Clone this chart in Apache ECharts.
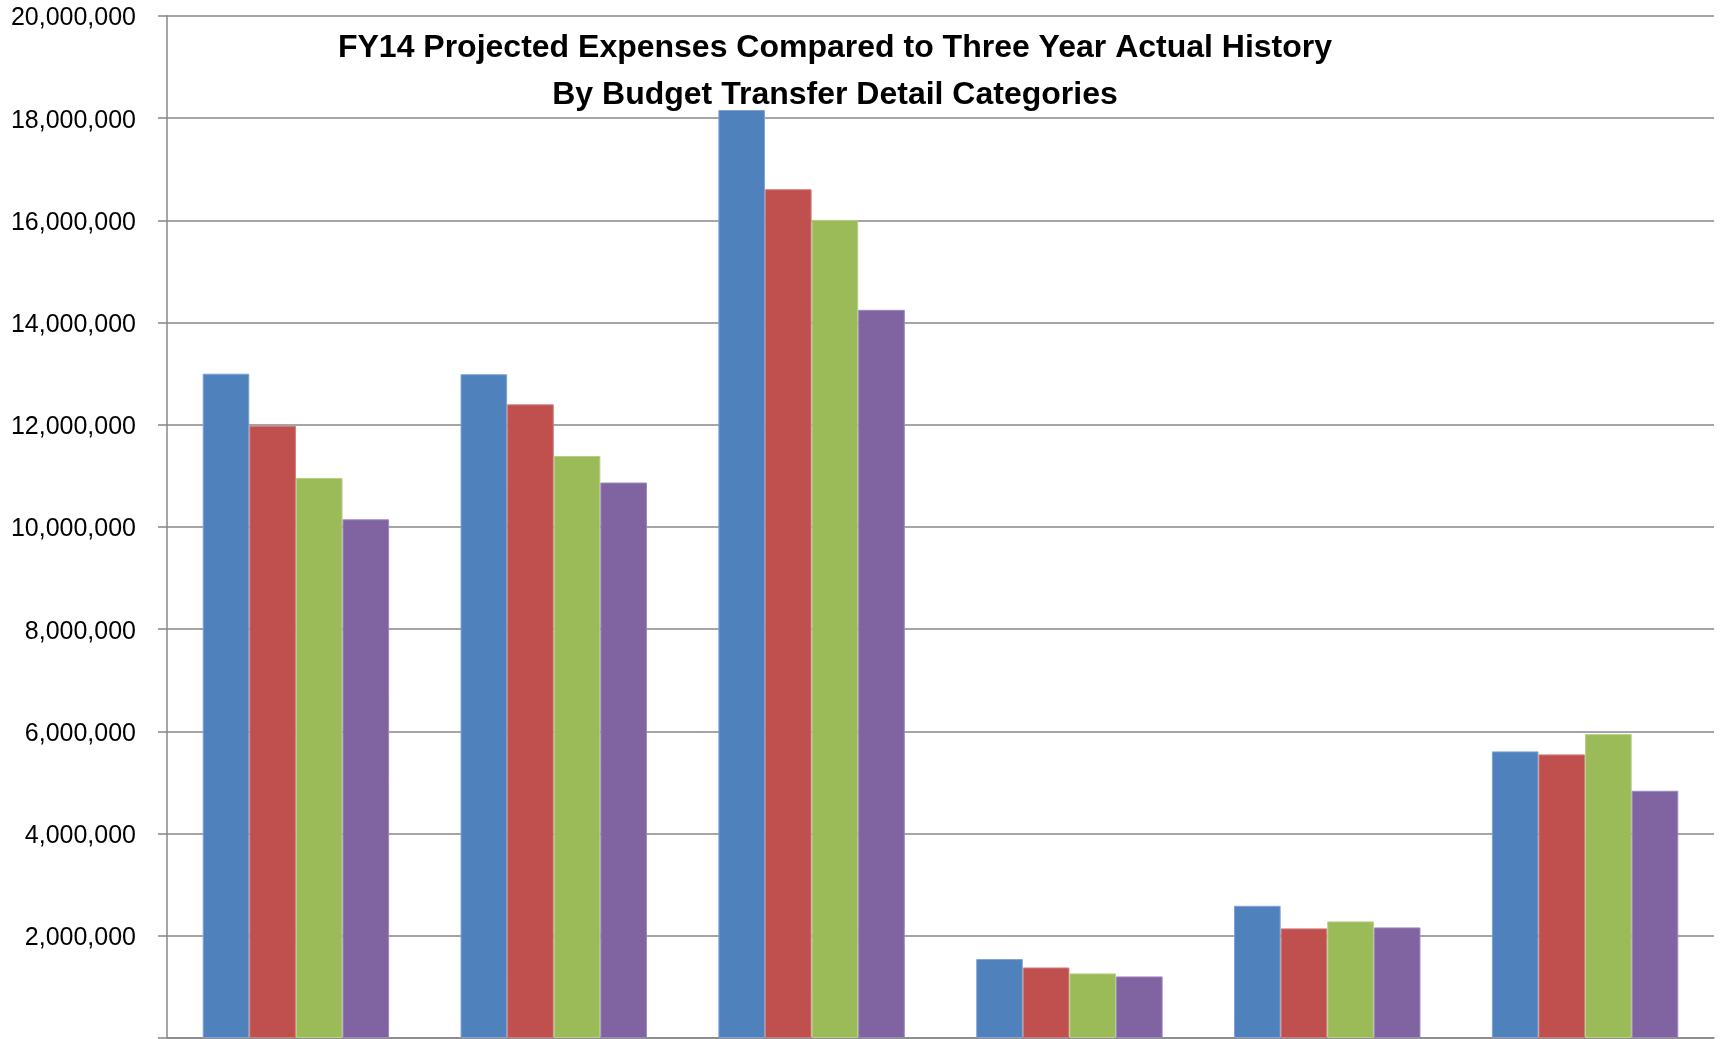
<!DOCTYPE html>
<html>
<head>
<meta charset="utf-8">
<title>FY14 Projected Expenses Compared to Three Year Actual History</title>
<script src="https://cdn.jsdelivr.net/npm/echarts@6/dist/echarts.min.js"></script>
<style>
  html, body { margin: 0; padding: 0; background: #ffffff; }
  #chart { width: 1721px; height: 1039px; }
</style>
</head>
<body>
<div id="chart"></div>
<script>
// Budget transfer detail categories (axis labels are not shown on the chart)
const categories = ['Category 1', 'Category 2', 'Category 3', 'Category 4', 'Category 5', 'Category 6'];

// Expenses per category, in dollars
const fy14Projected = [13000000, 12990000, 18160000, 1544000, 2587000, 5609000];
const fy13Actual    = [11980000, 12400000, 16610000, 1380000, 2145000, 5550000];
const fy12Actual    = [10960000, 11390000, 16010000, 1264000, 2282000, 5947000];
const fy11Actual    = [10150000, 10870000, 14250000, 1205000, 2164000, 4838000];

const seriesNames = ['FY14 Projected', 'FY13 Actual', 'FY12 Actual', 'FY11 Actual'];
const seriesValues = [fy14Projected, fy13Actual, fy12Actual, fy11Actual];
const seriesColors = ['#4f81bd', '#c0504d', '#9bbb59', '#8064a2'];
const seriesEdges  = ['#7fa3d3', '#d07c7a', '#b5cf85', '#9c86bd'];

const titleLines = [
  'FY14 Projected Expenses Compared to Three Year Actual History',
  'By Budget Transfer Detail Categories'
];

const chart = echarts.init(document.getElementById('chart'), null, { renderer: 'canvas' });

const gridColor = '#878787';

chart.setOption({
  backgroundColor: '#ffffff',
  animation: false,
  grid: { left: 167, right: 7, top: 16, bottom: 1, containLabel: false },
  xAxis: {
    type: 'category',
    data: categories,
    axisLine: { show: true, lineStyle: { color: gridColor, width: 1.5 } },
    axisTick: { show: false },
    axisLabel: { show: false },
    splitLine: { show: false }
  },
  yAxis: {
    type: 'value',
    min: 0,
    max: 20000000,
    interval: 2000000,
    axisLine: { show: true, lineStyle: { color: gridColor, width: 1.5 } },
    axisTick: { show: true, inside: false, length: 9, lineStyle: { color: gridColor, width: 1.5 } },
    axisLabel: {
      margin: 31,
      formatter: function (v) { return v === 0 ? '' : '{n|' + v.toLocaleString('en-US') + '}'; },
      rich: {
        n: {
          color: '#000000',
          fontFamily: 'Liberation Sans, Arial, sans-serif',
          fontSize: 25,
          padding: [5, 0, 0, 0]
        }
      }
    },
    splitLine: { show: true, lineStyle: { color: gridColor, width: 1.5 } }
  },
  series: seriesValues.map(function (vals, i) {
    return {
      name: seriesNames[i],
      type: 'bar',
      data: vals,
      barGap: '0%',
      barCategoryGap: '27.7%',
      itemStyle: { color: seriesColors[i], borderColor: seriesEdges[i], borderWidth: 1 }
    };
  }),
  graphic: titleLines.map(function (line, i) {
    return {
      type: 'text',
      x: 835,
      y: i === 0 ? 48 : 95,
      z: 100,
      style: {
        text: line,
        fill: '#000000',
        font: 'bold 32px "Liberation Sans", Arial, sans-serif',
        textAlign: 'center',
        textVerticalAlign: 'middle'
      }
    };
  })
});
</script>
</body>
</html>
